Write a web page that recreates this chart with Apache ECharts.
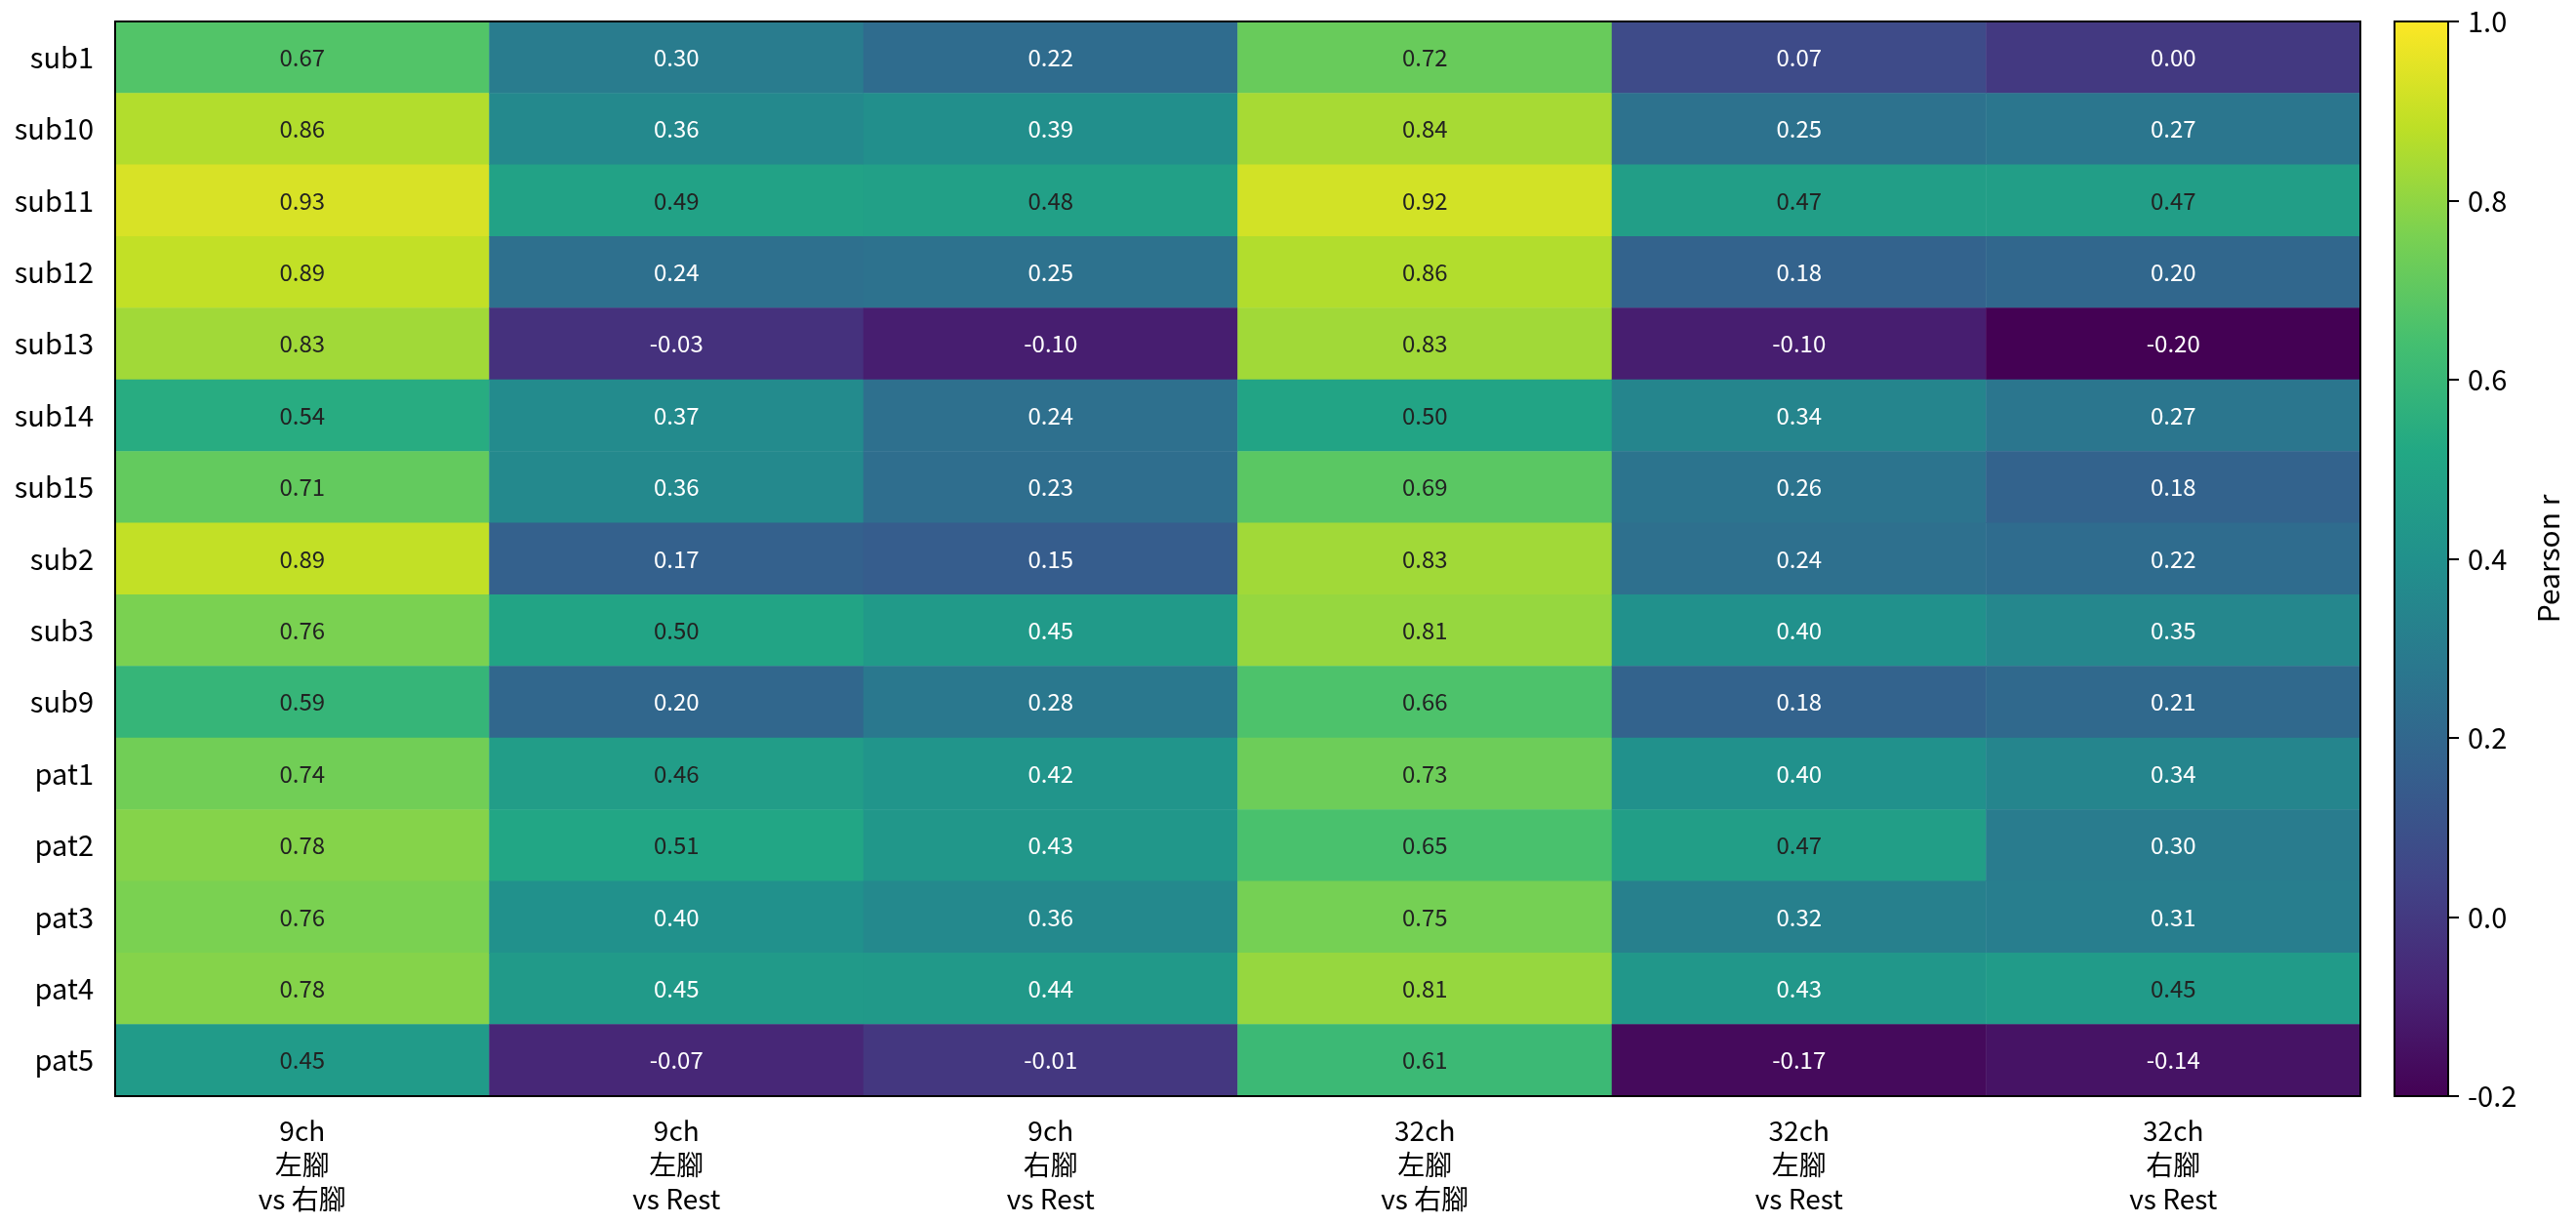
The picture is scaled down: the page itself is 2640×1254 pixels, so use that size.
<!DOCTYPE html>
<html>
<head>
<meta charset="utf-8">
<title>Pearson r heatmap</title>
<script src="https://cdn.jsdelivr.net/npm/echarts@6/dist/echarts.min.js"></script>
<style>
  html, body { margin: 0; padding: 0; background: #fff; }
  #chart { width: 2640px; height: 1254px; }
</style>
</head>
<body>
<div id="chart"></div>
<script>
// rows (top to bottom) and columns (left to right)
var subjects = ['sub1', 'sub10', 'sub11', 'sub12', 'sub13', 'sub14', 'sub15', 'sub2', 'sub3', 'sub9', 'pat1', 'pat2', 'pat3', 'pat4', 'pat5'];
var comparisons = ['9ch\n左腳\nvs 右腳', '9ch\n左腳\nvs Rest', '9ch\n右腳\nvs Rest', '32ch\n左腳\nvs 右腳', '32ch\n左腳\nvs Rest', '32ch\n右腳\nvs Rest'];

// one array per column, values in subject order
var ch9LeftVsRight  = [0.67, 0.86, 0.93, 0.89, 0.83, 0.54, 0.71, 0.89, 0.76, 0.59, 0.74, 0.78, 0.76, 0.78, 0.452];
var ch9LeftVsRest   = [0.30, 0.36, 0.49, 0.24, -0.03, 0.37, 0.36, 0.17, 0.50, 0.20, 0.46, 0.51, 0.40, 0.448, -0.07];
var ch9RightVsRest  = [0.22, 0.39, 0.48, 0.25, -0.10, 0.24, 0.23, 0.15, 0.448, 0.28, 0.42, 0.43, 0.36, 0.44, -0.01];
var ch32LeftVsRight = [0.72, 0.84, 0.92, 0.86, 0.83, 0.50, 0.69, 0.83, 0.81, 0.66, 0.73, 0.65, 0.75, 0.81, 0.61];
var ch32LeftVsRest  = [0.07, 0.25, 0.47, 0.18, -0.10, 0.34, 0.26, 0.24, 0.40, 0.18, 0.40, 0.47, 0.32, 0.43, -0.17];
var ch32RightVsRest = [0.00, 0.27, 0.47, 0.20, -0.20, 0.27, 0.18, 0.22, 0.35, 0.21, 0.34, 0.30, 0.31, 0.452, -0.14];

var columns = [ch9LeftVsRight, ch9LeftVsRest, ch9RightVsRest, ch32LeftVsRight, ch32LeftVsRest, ch32RightVsRest];

// colour scale
var cbMin = -0.2;
var cbMax = 1.0;
var cbStep = 0.2;
var viridis = ['#440154', '#482475', '#414487', '#355f8d', '#2a788e', '#21918c', '#22a884', '#44bf70', '#7ad151', '#bddf26', '#fde725'];

var FONT = '"Noto Sans CJK TC", "Noto Sans", sans-serif';

var cells = [];
for (var c = 0; c < columns.length; c++) {
    for (var r = 0; r < subjects.length; r++) {
        var v = columns[c][r];
        cells.push({
            value: [c, r, v],
            label: { color: v >= 0.45 ? '#222' : '#fff' }
        });
    }
}

// gradient for the colour bar, top = max
var cbStops = [];
for (var i = 0; i < viridis.length; i++) {
    cbStops.push({ offset: 1 - i / (viridis.length - 1), color: viridis[i] });
}

var myChart = echarts.init(document.getElementById('chart'));

option = {
    backgroundColor: '#fff',
    animation: false,
    textStyle: { fontFamily: FONT },
    grid: [
        { left: 118, top: 22, width: 2301, height: 1101 },
        { left: 2454, top: 22, width: 55, height: 1101 }
    ],
    xAxis: [
        {
            type: 'category', gridIndex: 0, data: comparisons, z: 5,
            axisLine: { lineStyle: { color: '#000', width: 2 } },
            axisTick: { alignWithLabel: true, length: 11, lineStyle: { color: '#000', width: 2 } },
            axisLabel: { color: '#000', fontSize: 28, lineHeight: 35, margin: 18, fontFamily: FONT }
        },
        {
            type: 'category', gridIndex: 0, position: 'top', data: comparisons, z: 5,
            axisLine: { lineStyle: { color: '#000', width: 2 } },
            axisTick: { show: false }, axisLabel: { show: false }
        },
        {
            type: 'category', gridIndex: 1, data: [''],
            axisLine: { show: false }, axisTick: { show: false }, axisLabel: { show: false }
        }
    ],
    yAxis: [
        {
            type: 'category', gridIndex: 0, data: subjects, inverse: true, z: 5,
            axisLine: { lineStyle: { color: '#000', width: 2 } },
            axisTick: { alignWithLabel: true, length: 11, lineStyle: { color: '#000', width: 2 } },
            axisLabel: { color: '#000', fontSize: 29, margin: 22, fontFamily: FONT }
        },
        {
            type: 'category', gridIndex: 0, position: 'right', data: subjects, inverse: true, z: 5,
            axisLine: { lineStyle: { color: '#000', width: 2 } },
            axisTick: { show: false }, axisLabel: { show: false }
        },
        {
            type: 'value', gridIndex: 1, position: 'right',
            min: cbMin, max: cbMax, interval: cbStep,
            splitLine: { show: false },
            axisLine: { show: false },
            axisTick: { show: true, length: 11, lineStyle: { color: '#000', width: 2 } },
            axisLabel: {
                color: '#000', fontSize: 29, margin: 20, fontFamily: FONT,
                formatter: function (v) { return v.toFixed(1); }
            },
            name: 'Pearson r',
            nameLocation: 'middle',
            nameGap: 88,
            nameTextStyle: { color: '#000', fontSize: 30, fontFamily: FONT }
        }
    ],
    visualMap: {
        show: false,
        type: 'continuous',
        seriesIndex: 0,
        min: cbMin,
        max: cbMax,
        inRange: { color: viridis }
    },
    series: [
        {
            type: 'heatmap',
            xAxisIndex: 0,
            yAxisIndex: 0,
            data: cells,
            label: {
                show: true,
                fontSize: 24,
                fontFamily: FONT,
                formatter: function (p) { return p.value[2].toFixed(2); }
            },
            emphasis: { disabled: true }
        },
        {
            type: 'custom',
            xAxisIndex: 2,
            yAxisIndex: 2,
            data: [[0, cbMin, cbMax]],
            encode: { x: 0, y: [1, 2] },
            renderItem: function (params, api) {
                var bottom = api.coord([api.value(0), api.value(1)]);
                var top = api.coord([api.value(0), api.value(2)]);
                var w = api.size([1, 0])[0];
                return {
                    type: 'rect',
                    shape: { x: top[0] - w / 2, y: top[1], width: w, height: bottom[1] - top[1] },
                    style: {
                        fill: new echarts.graphic.LinearGradient(0, 0, 0, 1, cbStops),
                        stroke: '#000',
                        lineWidth: 2
                    }
                };
            }
        }
    ]
};

if (option && typeof option === "object") {
    myChart.setOption(option, true);
}
</script>
</body>
</html>
